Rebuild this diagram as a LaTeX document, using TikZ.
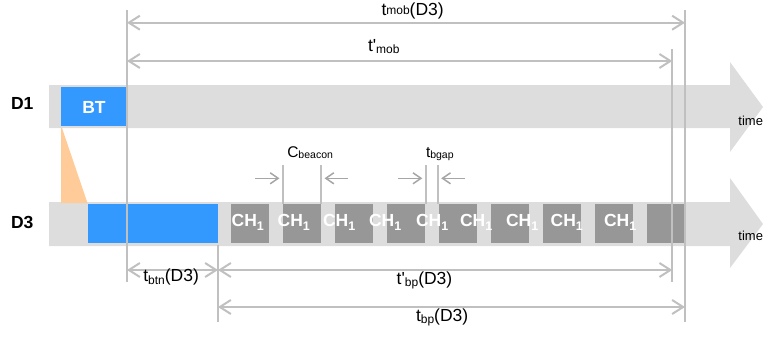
\documentclass[tikz,border=0pt]{standalone}
\usepackage{fontspec}
\setmainfont{Liberation Sans}[Ligatures=TeXOff]
\usetikzlibrary{arrows.meta}
\definecolor{bargray}{HTML}{DDDDDD}
\definecolor{boxgray}{HTML}{979797}
\definecolor{linegray}{HTML}{C0C0C0}
\definecolor{arrgray}{HTML}{A6A6A6}
\definecolor{btblue}{HTML}{3399FF}
\definecolor{peach}{HTML}{FFCC99}
\newcommand\mysub[3]{\raisebox{#1}{\fontsize{#2}{#2}\selectfont #3}}
\begin{document}
\begin{tikzpicture}[x=1pt,y=-1pt,
  inner sep=0pt, outer sep=0pt,
  guide/.style={draw=linegray, line width=2pt},
  dimline/.style={draw=linegray, line width=2pt,
    {Straight Barb[length=11pt,width=14pt]}-{Straight Barb[length=11pt,width=14pt]}},
  smallarr/.style={draw=arrgray, line width=1.5pt, -{Straight Barb[length=8pt,width=11pt]}},
  devlabel/.style={font=\fontsize{17.5}{20}\selectfont\bfseries, text=black},
  chlabel/.style={font=\fontsize{17.5}{20}\selectfont\bfseries, text=white},
  dimlabel/.style={font=\fontsize{17.5}{20}\selectfont, text=black},
  smalllabel/.style={font=\fontsize{15.5}{18}\selectfont, text=black},
  timelabel/.style={font=\fontsize{13}{15}\selectfont, text=black},
  chbox/.style={fill=boxgray}
]
\useasboundingbox (0,0) rectangle (763,338);

% time bars
\fill[bargray] (49,85) -- (730,85) -- (730,62) -- (763,107) -- (730,152) -- (730,128) -- (49,128) -- cycle;
\fill[bargray] (49,202) -- (730,202) -- (730,178) -- (763,224) -- (730,268) -- (730,246) -- (49,246) -- cycle;

% BT and propagation
\fill[peach] (61,128) -- (62,128) -- (87.5,203) -- (61,203) -- cycle;
\fill[btblue] (61,87) rectangle (127,126);
\fill[btblue] (88,204) rectangle (218,243);

% CH boxes
\foreach \i in {0,...,7} {
  \fill[boxgray] ({230.7+52*\i},204) rectangle ({269.3+52*\i},243);
}
\fill[boxgray] (646.7,204) rectangle (684,243);

% CH labels
\foreach \x [count=\k] in {231.7,277.7,323,369,416,460,506,550.7,604} {
  \node[chlabel, anchor=base west] (ch\k) at (\x,226.7) {CH\mysub{-4pt}{12.5}{1}};
}

% labels
\node[devlabel, anchor=base west] (d1) at (11,109.3) {D1};
\node[devlabel, anchor=base west] (d3) at (11,228.7) {D3};
\node[chlabel, anchor=center] (bt) at (94,107) {BT};
\node[timelabel, anchor=base east] (time1) at (763,125) {time};
\node[timelabel, anchor=base east] (time2) at (763,240) {time};

% vertical guides
\coordinate (a1) at (127,10);   \coordinate (a2) at (127,282);
\coordinate (b1) at (218,245);  \coordinate (b2) at (218,322);
\coordinate (c1) at (672.3,49); \coordinate (c2) at (672.3,282);
\coordinate (e1) at (685,10);   \coordinate (e2) at (685,322);
\draw[guide] (a1) -- (a2);
\draw[guide] (b1) -- (b2);
\draw[guide] (c1) -- (c2);
\draw[guide] (e1) -- (e2);

% dimension arrows
\coordinate (mobL) at (127,22.7);  \coordinate (mobR) at (685,22.7);
\coordinate (pmobL) at (127,61);   \coordinate (pmobR) at (672.3,61);
\coordinate (btnL) at (127,270);   \coordinate (btnR) at (218,270);
\coordinate (pbpL) at (218,270);   \coordinate (pbpR) at (672.3,270);
\coordinate (bpL) at (218,307);    \coordinate (bpR) at (685,307);
\draw[dimline] (mobL) -- (mobR);
\draw[dimline] (pmobL) -- (pmobR);
\draw[dimline] (btnL) -- (btnR);
\draw[dimline] (pbpL) -- (pbpR);
\draw[dimline] (bpL) -- (bpR);

\node[dimlabel, anchor=base west] (lmob) at (381.5,15) {t\mysub{1pt}{12}{mob}(D3)};
\node[dimlabel, anchor=base west] (lpmob) at (368,51.5) {t'\mysub{-2pt}{12}{mob}};
\node[dimlabel, anchor=base west] (lbtn) at (143.3,281.7) {t\mysub{-3pt}{12}{btn}(D3)};
\node[dimlabel, anchor=base west] (lpbp) at (396.7,284) {t'\mysub{-2pt}{12}{bp}(D3)};
\node[dimlabel, anchor=base west] (lbp) at (416,321.7) {t\mysub{-2pt}{12}{bp}(D3)};

% beacon / gap ticks
\coordinate (cb1) at (282.7,165); \coordinate (cb1b) at (282.7,204);
\coordinate (cb2) at (321,165);   \coordinate (cb2b) at (321,204);
\coordinate (bg1) at (425.7,165); \coordinate (bg1b) at (425.7,204);
\coordinate (bg2) at (437.7,165); \coordinate (bg2b) at (437.7,204);
\draw[guide] (cb1) -- (cb1b);
\draw[guide] (cb2) -- (cb2b);
\draw[guide] (bg1) -- (bg1b);
\draw[guide] (bg2) -- (bg2b);

\coordinate (s1a) at (255,178.3);   \coordinate (s1b) at (279.5,178.3);
\coordinate (s2a) at (348,178.3);   \coordinate (s2b) at (324.5,178.3);
\coordinate (s3a) at (398,178.3);   \coordinate (s3b) at (422.3,178.3);
\coordinate (s4a) at (465,178.3);   \coordinate (s4b) at (441.2,178.3);
\draw[smallarr] (s1a) -- (s1b);
\draw[smallarr] (s2a) -- (s2b);
\draw[smallarr] (s3a) -- (s3b);
\draw[smallarr] (s4a) -- (s4b);

\node[smalllabel, anchor=base west] (lcb) at (287.3,157.3) {C\mysub{-1pt}{10.5}{beacon}};
\node[smalllabel, anchor=base west] (lbg) at (426,157.3) {t\mysub{-1pt}{10.5}{bgap}};
\end{tikzpicture}
\end{document}
